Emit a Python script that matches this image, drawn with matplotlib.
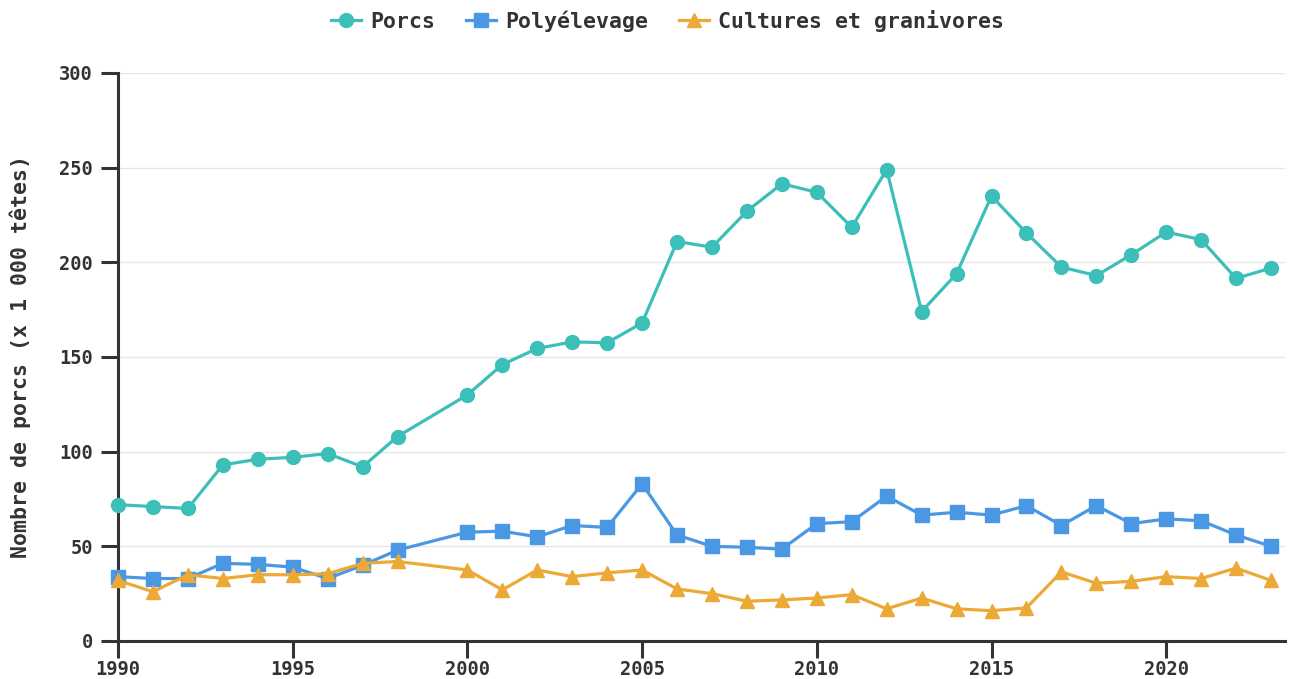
import matplotlib
matplotlib.use("Agg")
import matplotlib.pyplot as plt

years = [1990, 1991, 1992, 1993, 1994, 1995, 1996, 1997, 1998,
         2000, 2001, 2002, 2003, 2004, 2005, 2006, 2007, 2008, 2009,
         2010, 2011, 2012, 2013, 2014, 2015, 2016, 2017, 2018, 2019,
         2020, 2021, 2022, 2023]
porcs = [72, 71, 70, 93, 96, 97, 99, 92, 108,
         130, 146, 154.5, 158, 157.5, 168, 211, 208, 227, 241.5,
         237, 218.5, 249, 174, 194, 235, 215.5, 197.5, 193, 204,
         216, 212, 191.5, 197]
poly = [34, 33, 33, 41, 40.5, 39, 33, 40, 48,
        57.5, 58, 55, 61, 60, 83, 56, 50, 49.5, 48.5,
        62, 63, 76.5, 66.5, 68, 66.5, 71.5, 61, 71.5, 62,
        64.5, 63.5, 56, 50]
cultures = [32, 26, 35, 33, 35, 35, 35.5, 41, 42,
            37.5, 27, 37.5, 34, 36, 37.5, 27.5, 25, 21, 21.7,
            22.7, 24.5, 17, 22.7, 17, 16, 17.5, 36.5, 30.5, 31.5,
            34, 33, 38.5, 32]
series_names = ["Porcs", "Polyélevage", "Cultures et granivores"]
colors = ["#3BBFB8", "#4A98E3", "#ECA936"]
markers = ["o", "s", "^"]
msizes = [10, 9.5, 10.5]
yticks = [0, 50, 100, 150, 200, 250, 300]
xticks = [1990, 1995, 2000, 2005, 2010, 2015, 2020]

plt.rcParams['font.family'] = ['DejaVu Sans Mono']
plt.rcParams['font.weight'] = 'bold'

fig = plt.figure(figsize=(12.89, 6.79), dpi=100)
ax = fig.add_axes([118/1289, 1 - 641/679, (1285-118)/1289, (641-73)/679])

handles = []
for vals, name, c, m, ms in zip([porcs, poly, cultures], series_names, colors, markers, msizes):
    h, = ax.plot(years, vals, color=c, marker=m, markersize=ms,
                 linewidth=2.3, label=name, clip_on=False, zorder=3)
    handles.append(h)

ax.set_xlim(1990, 2023.4)
ax.set_ylim(0, 300)
ax.set_yticks(yticks)
ax.set_xticks(xticks)
ax.grid(axis='y', color='#e6e6e6', linewidth=1)
ax.set_axisbelow(True)
for s in ['top', 'right']:
    ax.spines[s].set_visible(False)
for s in ['left', 'bottom']:
    ax.spines[s].set_color('#333333')
    ax.spines[s].set_linewidth(2.2)
ax.tick_params(axis='both', colors='#333333', labelsize=13.5, width=2.2, length=12)
ax.tick_params(axis='y', pad=6)
ax.tick_params(axis='x', pad=1.5)
for lab in ax.get_xticklabels() + ax.get_yticklabels():
    lab.set_fontweight('bold')
    lab.set_color('#333333')
ax.set_ylabel("Nombre de porcs (x 1 000 têtes)", fontsize=15.5, fontweight='bold',
              color='#333333')
ax.yaxis.set_label_coords(-0.0745, 0.5)

leg = fig.legend(handles=handles, loc='center', bbox_to_anchor=(667.5/1289, 1 - 21/679),
                 ncol=3, frameon=False, fontsize=15.5, handlelength=1.4,
                 columnspacing=1.45, handletextpad=0.4, borderpad=0, borderaxespad=0)
for t in leg.get_texts():
    t.set_fontweight('bold')
    t.set_color('#333333')

fig.savefig("out.png", dpi=100)
